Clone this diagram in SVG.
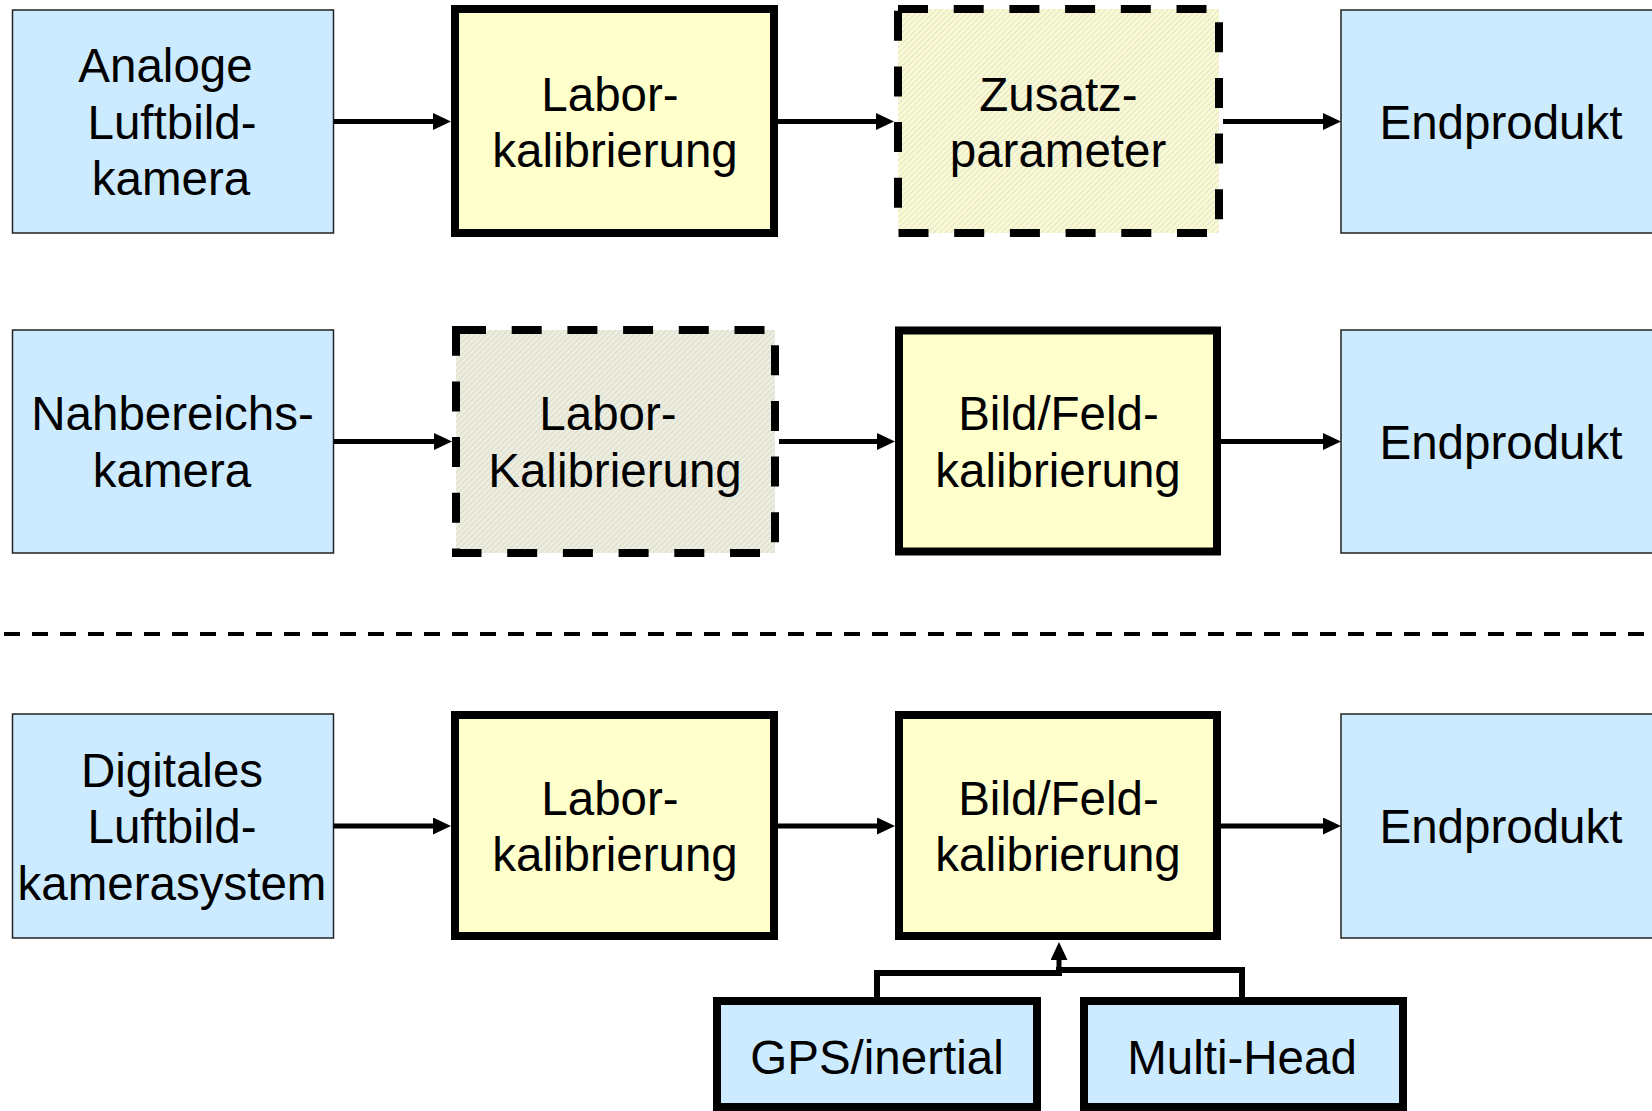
<svg xmlns="http://www.w3.org/2000/svg" width="1652" height="1111" viewBox="0 0 1652 1111">
  <defs>
    <marker id="ah" viewBox="0 0 18 17" refX="8" refY="8.5" markerWidth="18" markerHeight="17" markerUnits="userSpaceOnUse" orient="auto">
      <path d="M0,0 L18,8.5 L0,17 Z" fill="#000"/>
    </marker>
    <!-- hatched fills for the optional steps -->
    <pattern id="hatchA" width="4" height="4" patternUnits="userSpaceOnUse" patternTransform="rotate(45)">
      <rect width="4" height="4" fill="#FCFCCE"/>
      <rect width="1.5" height="4" fill="#E6E6D6"/>
    </pattern>
    <pattern id="hatchB" width="4" height="4" patternUnits="userSpaceOnUse" patternTransform="rotate(45)">
      <rect width="4" height="4" fill="#EFEFDF"/>
      <rect width="1.5" height="4" fill="#DEDED3"/>
    </pattern>
  </defs>
  <style>
    .src { fill: #CCEBFF; stroke: #222; stroke-width: 1.5; }
    .step { fill: #FFFFCC; stroke: #000; stroke-width: 8; }
    .opt { stroke: #000; stroke-width: 8; stroke-dasharray: 30 25.7; }
    .aux { fill: #CCEBFF; stroke: #000; stroke-width: 8; }
    .lbl { font-family: "Liberation Sans", Arial, sans-serif; font-size: 47.5px; fill: #000; text-anchor: middle; }
    .arr { stroke: #000; stroke-width: 5; fill: none; marker-end: url(#ah); }
    .ln { stroke: #000; stroke-width: 6; fill: none; }
  </style>

  <rect width="1652" height="1111" fill="#fff"/>

  <!-- row 1: analogue aerial camera -->
  <g id="analog-camera">
    <rect class="src" x="12.5" y="10" width="321" height="223"/>
    <text class="lbl" x="165.5" y="82">Analoge</text>
    <text class="lbl" x="172" y="138.5">Luftbild-</text>
    <text class="lbl" x="171" y="195">kamera</text>
  </g>
  <g id="labor-1">
    <rect class="step" x="455" y="9" width="319" height="224"/>
    <text class="lbl" x="610" y="110.5">Labor-</text>
    <text class="lbl" x="615" y="166.5">kalibrierung</text>
  </g>
  <g id="zusatz">
    <rect class="opt" fill="url(#hatchA)" x="898" y="9" width="321" height="224"/>
    <text class="lbl" x="1058.5" y="110.5">Zusatz-</text>
    <text class="lbl" x="1058" y="166.5">parameter</text>
  </g>
  <g id="end-1">
    <rect class="src" x="1341" y="10" width="321" height="223"/>
    <text class="lbl" x="1501" y="138.5">Endprodukt</text>
  </g>

  <!-- row 2: close-range camera -->
  <g id="nahbereich">
    <rect class="src" x="12.5" y="330" width="321" height="223"/>
    <text class="lbl" x="172.5" y="430">Nahbereichs-</text>
    <text class="lbl" x="172" y="486.5">kamera</text>
  </g>
  <g id="labor-2">
    <rect class="opt" fill="url(#hatchB)" x="456" y="330" width="319" height="223"/>
    <text class="lbl" x="608" y="430">Labor-</text>
    <text class="lbl" x="615" y="486.5">Kalibrierung</text>
  </g>
  <g id="feld-2">
    <rect class="step" x="899" y="330.5" width="318" height="221"/>
    <text class="lbl" x="1058.5" y="430">Bild/Feld-</text>
    <text class="lbl" x="1058" y="486.5">kalibrierung</text>
  </g>
  <g id="end-2">
    <rect class="src" x="1341" y="330" width="321" height="223"/>
    <text class="lbl" x="1501" y="458.5">Endprodukt</text>
  </g>

  <!-- separator -->
  <line x1="4" y1="634" x2="1652" y2="634" stroke="#000" stroke-width="4" stroke-dasharray="16 12"/>

  <!-- row 3: digital aerial camera system -->
  <g id="digital-camera">
    <rect class="src" x="12.5" y="714" width="321" height="224"/>
    <text class="lbl" x="172" y="786.5">Digitales</text>
    <text class="lbl" x="172" y="843">Luftbild-</text>
    <text class="lbl" x="172" y="899.5">kamerasystem</text>
  </g>
  <g id="labor-3">
    <rect class="step" x="455" y="715" width="319" height="221"/>
    <text class="lbl" x="610" y="815">Labor-</text>
    <text class="lbl" x="615" y="871">kalibrierung</text>
  </g>
  <g id="feld-3">
    <rect class="step" x="899" y="715" width="318" height="221"/>
    <text class="lbl" x="1058.5" y="815">Bild/Feld-</text>
    <text class="lbl" x="1058" y="871">kalibrierung</text>
  </g>
  <g id="end-3">
    <rect class="src" x="1341" y="714" width="321" height="224"/>
    <text class="lbl" x="1501" y="843">Endprodukt</text>
  </g>
  <g id="gps">
    <rect class="aux" x="717" y="1001" width="320" height="106"/>
    <text class="lbl" x="877" y="1074">GPS/inertial</text>
  </g>
  <g id="multihead">
    <rect class="aux" x="1084" y="1001" width="319" height="106"/>
    <text class="lbl" x="1242" y="1074">Multi-Head</text>
  </g>

  <!-- connectors -->
  <g id="connectors">
    <line class="arr" x1="333.5" y1="121.5" x2="441" y2="121.5"/>
    <line class="arr" x1="778" y1="121.5" x2="884" y2="121.5"/>
    <line class="arr" x1="1223" y1="121.5" x2="1331" y2="121.5"/>

    <line class="arr" x1="333.5" y1="441.5" x2="442" y2="441.5"/>
    <line class="arr" x1="779" y1="441.5" x2="885" y2="441.5"/>
    <line class="arr" x1="1221" y1="441.5" x2="1331" y2="441.5"/>

    <line class="arr" x1="333.5" y1="826" x2="441" y2="826"/>
    <line class="arr" x1="778" y1="826" x2="885" y2="826"/>
    <line class="arr" x1="1221" y1="826" x2="1331" y2="826"/>

    <path class="ln" d="M877,997 V973 H1062"/>
    <path class="ln" d="M1242,997 V970 H1056"/>
    <line class="arr" x1="1059" y1="973" x2="1059" y2="952"/>
  </g>
</svg>
